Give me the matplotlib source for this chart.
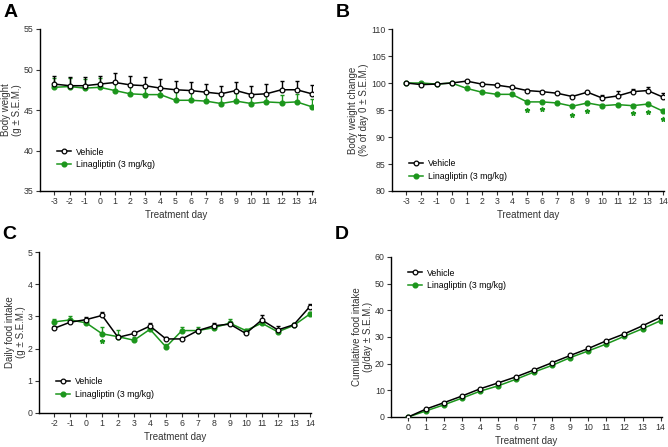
import numpy as np
import matplotlib.pyplot as plt

plt.rcParams['font.family'] = ['Liberation Sans', 'DejaVu Sans']
plt.rcParams['axes.unicode_minus'] = False

GREEN = '#1c961c'

# Panel A: body weight (g)
days_a = list(range(-3, 15))
veh_a = [48.2, 48.0, 48.0, 48.2, 48.4, 48.1, 48.0, 47.7, 47.5, 47.4, 47.2, 47.0, 47.4, 46.9, 47.0, 47.5, 47.5, 47.0]
veh_a_sem = [1.0, 1.1, 1.1, 1.0, 1.2, 1.1, 1.1, 1.1, 1.1, 1.1, 1.0, 1.0, 1.1, 1.1, 1.2, 1.1, 1.1, 1.1]
lin_a = [47.8, 47.9, 47.7, 47.8, 47.4, 47.0, 46.9, 46.9, 46.2, 46.2, 46.1, 45.8, 46.1, 45.8, 46.0, 45.9, 46.0, 45.4]
lin_a_sem = [1.1, 1.1, 1.1, 1.1, 1.0, 1.0, 1.0, 1.0, 1.0, 1.0, 1.0, 1.0, 1.0, 1.0, 1.0, 1.0, 1.0, 0.9]

# Panel B: body weight change (% of day 0)
days_b = list(range(-3, 15))
veh_b = [100.0, 99.7, 99.8, 100.0, 100.35, 99.8, 99.6, 99.2, 98.6, 98.4, 98.1, 97.5, 98.3, 97.2, 97.6, 98.4, 98.6, 97.4]
veh_b_sem = [0.2, 0.2, 0.1, 0.0, 0.2, 0.2, 0.2, 0.2, 0.2, 0.2, 0.2, 0.3, 0.3, 0.6, 1.0, 0.4, 0.6, 0.7]
lin_b = [100.0, 100.0, 99.8, 100.0, 99.0, 98.3, 97.9, 97.9, 96.5, 96.5, 96.3, 95.7, 96.3, 95.8, 96.0, 95.8, 96.1, 94.8]
lin_b_sem = [0.2, 0.2, 0.1, 0.0, 0.2, 0.2, 0.2, 0.2, 0.3, 0.3, 0.3, 0.3, 0.3, 0.3, 0.3, 0.3, 0.3, 0.4]
star_days_b = [5, 6, 8, 9, 12, 13, 14]
star_y_b = [95.0, 95.1, 94.1, 94.9, 94.4, 94.7, 93.3]

# Panel C: daily food intake (g)
days_c = list(range(-2, 15))
veh_c = [2.63, 2.82, 2.90, 3.03, 2.35, 2.47, 2.70, 2.30, 2.30, 2.56, 2.71, 2.76, 2.47, 2.89, 2.58, 2.74, 3.30]
veh_c_sem = [0.06, 0.06, 0.08, 0.10, 0.08, 0.06, 0.08, 0.06, 0.04, 0.05, 0.08, 0.06, 0.05, 0.15, 0.13, 0.05, 0.10]
lin_c = [2.83, 2.89, 2.80, 2.46, 2.37, 2.26, 2.60, 2.05, 2.56, 2.56, 2.65, 2.79, 2.56, 2.79, 2.52, 2.72, 3.07]
lin_c_sem = [0.10, 0.12, 0.05, 0.20, 0.20, 0.10, 0.08, 0.10, 0.10, 0.10, 0.06, 0.12, 0.05, 0.05, 0.05, 0.05, 0.06]
star_days_c = [1]
star_y_c = [2.23]

# Panel D: cumulative food intake
days_d = list(range(0, 15))
veh_d = [0.0, 3.0, 5.4, 7.9, 10.6, 12.8, 15.1, 17.7, 20.4, 23.1, 25.7, 28.6, 31.2, 34.2, 37.4]
lin_d = [0.0, 2.3, 4.6, 7.1, 9.7, 11.7, 14.2, 16.9, 19.4, 22.3, 24.8, 27.4, 30.3, 33.1, 36.1]

W, H = 668, 447
fig = plt.figure(figsize=(W / 100, H / 100), dpi=100)


def make_ax(left, right, top, bottom):
    return fig.add_axes([left / W, 1 - bottom / H, (right - left) / W, (bottom - top) / H])


def style(ax, days, ylim, yticks, ylabel):
    ax.spines['top'].set_visible(False)
    ax.spines['right'].set_visible(False)
    ax.spines['left'].set_linewidth(1.0)
    ax.spines['bottom'].set_linewidth(1.0)
    ax.set_ylim(*ylim)
    ax.set_yticks(yticks)
    ax.set_xticks(days)
    ax.set_xlim(days[0] - 0.95, days[-1] + 0.08)
    ax.tick_params(labelsize=6.3, length=3, width=0.8, pad=1.5, colors='#333333')
    ax.set_xlabel('Treatment day', fontsize=7, labelpad=3, color='#333333')
    ax.set_ylabel(ylabel, fontsize=7, labelpad=1.5, color='#333333', linespacing=1.1)


def draw(ax, days, veh, lin, veh_sem=None, lin_sem=None):
    if lin_sem is not None:
        ax.errorbar(days, lin, yerr=[np.zeros(len(lin_sem)), lin_sem], fmt='none',
                    ecolor=GREEN, elinewidth=1.0, capsize=1.6, capthick=1.0, zorder=2)
    if veh_sem is not None:
        ax.errorbar(days, veh, yerr=[np.zeros(len(veh_sem)), veh_sem], fmt='none',
                    ecolor='black', elinewidth=1.0, capsize=1.6, capthick=1.0, zorder=3)
    ax.plot(days, lin, '-o', color=GREEN, lw=1.1, ms=3.4, mfc=GREEN, mec=GREEN,
            label='Linagliptin (3 mg/kg)', zorder=4)
    ax.plot(days, veh, '-o', color='black', lw=1.1, ms=3.4, mfc='white', mec='black',
            mew=0.9, label='Vehicle', zorder=5)


def legend(ax, loc, anchor):
    h, l = ax.get_legend_handles_labels()
    ax.legend(h[::-1], l[::-1], loc=loc, bbox_to_anchor=anchor, frameon=False,
              fontsize=6.3, handlelength=1.6, handletextpad=0.6, labelspacing=0.45,
              borderaxespad=0)


# A
axA = make_ax(40, 313, 29, 191)
draw(axA, days_a, veh_a, lin_a, veh_a_sem, lin_a_sem)
style(axA, days_a, (35, 55), [35, 40, 45, 50, 55], 'Body weight\n(g ± S.E.M.)')
legend(axA, 'upper left', (0.05, 0.29))

# B
axB = make_ax(392, 664, 29, 191)
draw(axB, days_b, veh_b, lin_b, veh_b_sem, lin_b_sem)
style(axB, days_b, (80, 110), [80, 85, 90, 95, 100, 105, 110],
      'Body weight change\n(% of day 0 ± S.E.M.)')
axB.plot(star_days_b, star_y_b, linestyle='none', marker='*', color=GREEN, ms=3.5)
legend(axB, 'upper left', (0.05, 0.22))

# C
axC = make_ax(39, 311, 252, 413)
draw(axC, days_c, veh_c, lin_c, veh_c_sem, lin_c_sem)
style(axC, days_c, (0, 5), [0, 1, 2, 3, 4, 5], 'Daily food intake\n(g ± S.E.M.)')
axC.plot(star_days_c, star_y_c, linestyle='none', marker='*', color=GREEN, ms=3.5)
legend(axC, 'upper left', (0.05, 0.245))

# D
axD = make_ax(391, 662, 257, 417)
draw(axD, days_d, veh_d, lin_d)
style(axD, days_d, (0, 60), [0, 10, 20, 30, 40, 50, 60],
      'Cumulative food intake\n(g/day ± S.E.M.)')
legend(axD, 'upper left', (0.05, 0.95))

for letter, x, y in [('A', 4, 4), ('B', 336, 4), ('C', 2, 226), ('D', 335, 226)]:
    fig.text(x / W, 1 - y / H, letter, fontsize=14, fontweight='bold', va='top', ha='left')

fig.savefig('out.png', dpi=100)
